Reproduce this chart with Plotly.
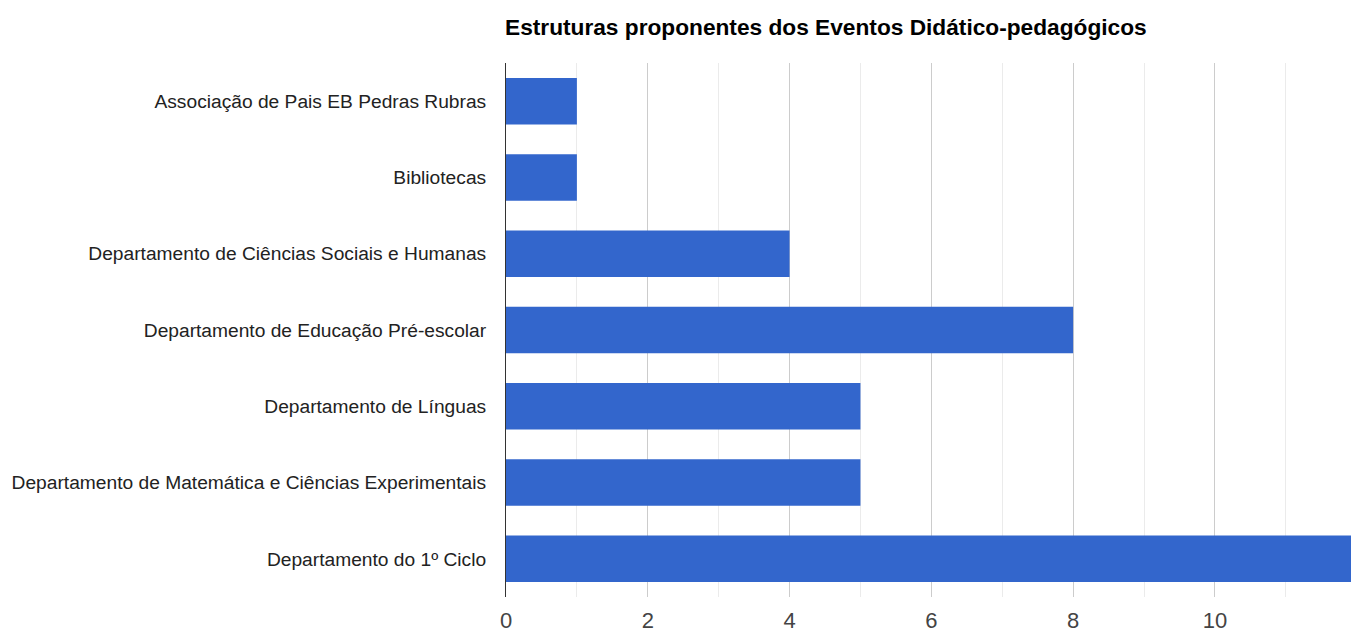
import plotly.graph_objects as go

categories = [
    "Associação de Pais EB Pedras Rubras",
    "Bibliotecas",
    "Departamento de Ciências Sociais e Humanas",
    "Departamento de Educação Pré-escolar",
    "Departamento de Línguas",
    "Departamento de Matemática e Ciências Experimentais",
    "Departamento do 1º Ciclo",
]
values = [1, 1, 4, 8, 5, 5, 12]
tick_vals = [0, 2, 4, 6, 8, 10]
title_text = "Estruturas proponentes dos Eventos Didático-pedagógicos"

fig = go.Figure(go.Bar(
    x=values, y=categories, orientation="h",
    marker=dict(color="#3366cc", line=dict(width=0)),
    width=0.61,
))

fig.update_layout(
    width=1351, height=633,
    margin=dict(l=506, r=0, t=63, b=34),
    paper_bgcolor="white", plot_bgcolor="white",
    title=dict(text="<b>" + title_text + "</b>", x=505 / 1351, xanchor="left",
               y=1 - 27 / 633, yanchor="middle",
               font=dict(family="Liberation Sans, Arial", size=22.7, color="#000")),
    font=dict(family="Liberation Sans, Arial", color="#222"),
    showlegend=False,
)
fig.update_xaxes(
    range=[0, 11.92], tickvals=tick_vals, showgrid=True, gridcolor="#cccccc", gridwidth=1,
    minor=dict(dtick=1, tick0=0, showgrid=True, gridcolor="#ebebeb", gridwidth=1),
    zeroline=False, showline=False, ticks="", ticklabelstandoff=8,
    tickfont=dict(size=22, color="#444"), fixedrange=True,
)
fig.update_yaxes(
    autorange="reversed", showline=True, linecolor="#333333", linewidth=1,
    ticks="", ticklabelstandoff=15, showgrid=False,
    tickfont=dict(size=19.2, color="#222"),
)
fig.write_html(
    "out.html",
    config={"displayModeBar": False},
    post_script="document.body.style.margin='0';document.body.style.overflow='hidden';",
)
